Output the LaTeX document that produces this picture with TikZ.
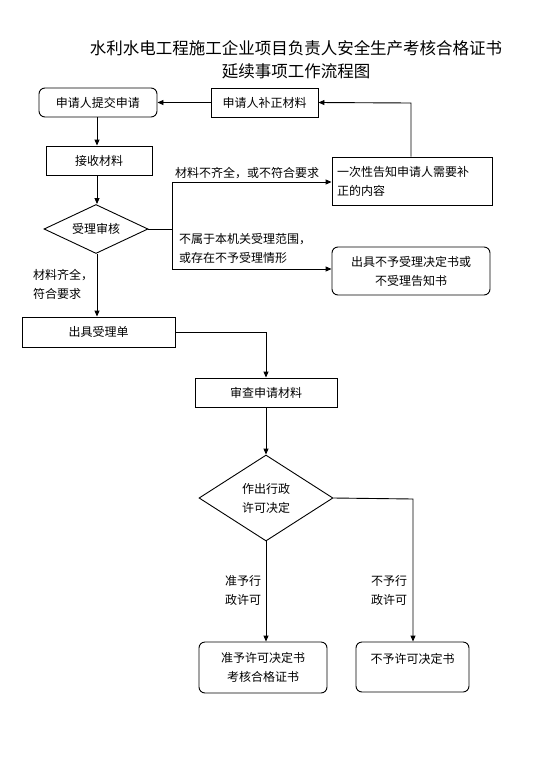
\documentclass[tikz,border=0pt]{standalone}
\usepackage{fontspec}
\setmainfont{Noto Sans CJK SC}
\usetikzlibrary{arrows.meta,shapes.geometric}
\begin{document}
\begin{tikzpicture}[x=1pt,y=-1pt,
  every node/.style={font=\fontsize{12}{18}\selectfont, inner sep=0pt},
  rbox/.style={draw, thick, line width=0.9pt},
  rrbox/.style={draw, line width=0.9pt, rounded corners=6pt},
  lbl/.style={align=left, font=\fontsize{12}{19}\selectfont},
  conn/.style={line width=0.9pt},
  arr/.style={line width=0.9pt, -{Triangle[length=6pt,width=5pt]}}]
\useasboundingbox (0,0) rectangle (557,764);
% title
\node (t1) at (296,48) {\fontsize{16.5}{20}\selectfont 水利水电工程施工企业项目负责人安全生产考核合格证书};
\node (t2) at (296,71) {\fontsize{16.5}{20}\selectfont 延续事项工作流程图};
% boxes
\node[rrbox, minimum width=118pt, minimum height=29pt] (submit) at (98,102.5) {申请人提交申请};
\node[rbox, minimum width=107pt, minimum height=29pt] (supp) at (264.5,102.5) {申请人补正材料};
\node[rbox, minimum width=106pt, minimum height=29pt] (recv) at (99,160.5) {接收材料};
\node[draw, line width=0.9pt, diamond, aspect=2.1, minimum width=104pt, minimum height=49pt] (check) at (96,229) {受理审核};
\node[rbox, minimum width=160pt, minimum height=48pt, align=left, text width=150pt, font=\fontsize{12}{19}\selectfont] (notify) at (412,181) {一次性告知申请人需要补\\正的内容};
\node[rrbox, minimum width=158pt, minimum height=48pt, align=center, font=\fontsize{12}{19}\selectfont] (reject) at (411,271) {出具不予受理决定书或\\不受理告知书};
\node[rbox, minimum width=153pt, minimum height=30pt] (accept) at (98.5,332) {出具受理单};
\node[rbox, minimum width=142pt, minimum height=29pt] (review) at (266,392.5) {审查申请材料};
\node[draw, line width=0.9pt, diamond, aspect=1.56, minimum width=134pt, minimum height=86pt, align=center, font=\fontsize{12}{19}\selectfont] (decide) at (266,498) {作出行政\\许可决定};
\node[rrbox, minimum width=128pt, minimum height=51pt, align=center, font=\fontsize{12}{19}\selectfont] (grant) at (263,667.5) {准予许可决定书\\考核合格证书};
\node[rrbox, minimum width=113pt, minimum height=50pt] (deny) at (412.5,667) {};
\node (denyt) at (412.5,659) {不予许可决定书};
% coordinates
\coordinate (jr) at (172,229);
\coordinate (ju) at (172,182);
\coordinate (jd) at (172,269);
\coordinate (nt) at (411,103);
\coordinate (ac) at (266,332);
\coordinate (dr) at (413,499);
% connectors
\draw[arr] (supp.west) -- (submit.east);
\draw[arr] (notify.north -| nt) -- (nt) -- (supp.east);
\draw[arr] (submit.south -| 97,0) -- (recv.north -| 97,0);
\draw[arr] (recv.south -| 97,0) -- (check.north -| 97,0);
\draw[conn] (check.east) -- (jr);
\draw[arr] (jr) -- (ju) -- (ju -| notify.west);
\draw[arr] (jr) -- (jd) -- (jd -| reject.west);
\draw[arr] (check.south -| 97,0) -- (accept.north -| 97,0);
\draw[arr] (accept.east) -- (ac) -- (review.north);
\draw[arr] (review.south) -- (decide.north);
\draw[arr] (decide.south) -- (grant.north -| decide.south);
\draw[arr] (decide.east) -- (dr) -- (deny.north -| dr);
% labels
\node[anchor=west] (l1) at (175,173) {材料不齐全，或不符合要求};
\node[lbl, anchor=west] (l2) at (179,248.5) {不属于本机关受理范围，\\或存在不予受理情形};
\node[lbl, anchor=west] (l3) at (33,284) {材料齐全，\\符合要求};
\node[lbl, align=center] (l4) at (243,590) {准予行\\政许可};
\node[lbl, align=center] (l5) at (389,590) {不予行\\政许可};
\end{tikzpicture}
\end{document}
